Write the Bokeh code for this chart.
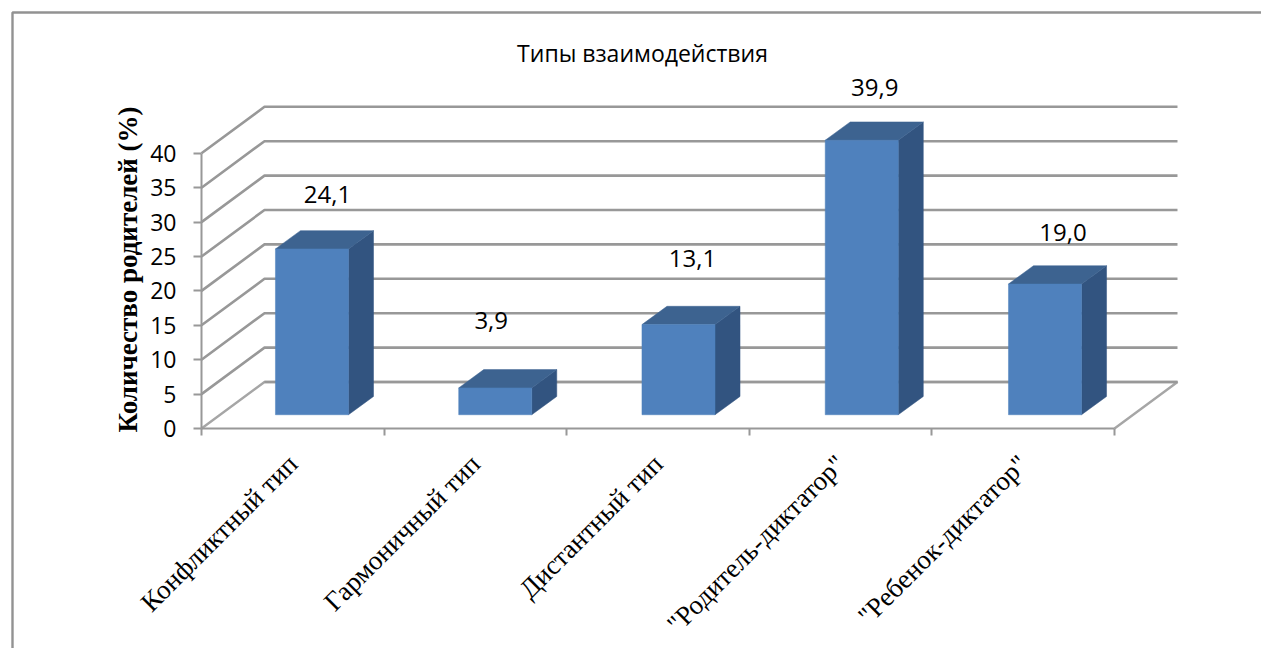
import math

from bokeh.core.properties import value
from bokeh.embed import file_html
from bokeh.models import (BoxAnnotation, ColumnDataSource, FixedTicker, Label,
                          LabelSet, LinearAxis, Range1d)
from bokeh.plotting import figure
from bokeh.resources import INLINE

# Data
categories = ["Конфликтный тип", "Гармоничный тип", "Дистантный тип",
              '"Родитель-диктатор"', '"Ребенок-диктатор"']
values = [24.1, 3.9, 13.1, 39.9, 19.0]
y_ticks = [0, 5, 10, 15, 20, 25, 30, 35, 40]
title_text = "Типы взаимодействия"
y_label = "Количество родителей (%)"

# Oblique projection of the box, in data units per unit of depth
DEPTH_X = 0.345
DEPTH_Y = 6.76
BAR_LEFT = 0.405
BAR_PITCH = 1.0036
BAR_WIDTH = 0.40
BAR_BASE = 2.0
BAR_DEPTH_X = 0.137
BAR_DEPTH_Y = 2.66

WIDTH, HEIGHT = 1261, 648
ORIGIN_X, ORIGIN_Y = 201, 428   # page position of the axes' origin
PX_PER_CATEGORY = 182.6
PX_PER_PERCENT = 6.88
n = len(categories)

FRONT = "#4F81BD"
SIDE = "#325480"
CAP = "#3D6390"
GRID = "#989898"
SANS = "Open Sans"
SERIF = "Liberation Serif"

# The plotting frame fills the page; the axes sit inside it at fixed locations
p = figure(width=WIDTH, height=HEIGHT, output_backend="svg", toolbar_location=None,
           x_axis_type=None, y_axis_type=None,
           x_range=Range1d(-ORIGIN_X / PX_PER_CATEGORY, (WIDTH - ORIGIN_X) / PX_PER_CATEGORY),
           y_range=Range1d((ORIGIN_Y - HEIGHT) / PX_PER_PERCENT, ORIGIN_Y / PX_PER_PERCENT),
           min_border=0, outline_line_color=None,
           background_fill_color="white", border_fill_color="white")
p.grid.visible = False

# Chart area border, running off the page on the right and at the bottom
p.add_layout(BoxAnnotation(left=12, right=WIDTH + 10, top=12, bottom=HEIGHT + 10,
                           left_units="canvas", right_units="canvas",
                           top_units="canvas", bottom_units="canvas",
                           fill_color=None, line_color="#929292", line_alpha=1,
                           line_width=2.4, level="underlay"))

# Walls: each gridline runs across the back and comes forward along the side
grid_xs = [[0, DEPTH_X, n + DEPTH_X] for _ in y_ticks[1:]]
grid_ys = [[t, t + DEPTH_Y, t + DEPTH_Y] for t in y_ticks[1:]]
p.multi_line(grid_xs, grid_ys, line_color=GRID, line_width=2.6)

# Floor
p.line([0, DEPTH_X, n + DEPTH_X, n],
       [0, DEPTH_Y, DEPTH_Y, 0], line_color="#A6A6A6", line_width=2.4)
p.line([DEPTH_X, n + DEPTH_X], [DEPTH_Y, DEPTH_Y], line_color=GRID, line_width=2.6)

# Bars
x0 = [BAR_LEFT + i * BAR_PITCH for i in range(n)]
x1 = [x + BAR_WIDTH for x in x0]
tops = [BAR_BASE + v for v in values]

side_xs = [[b, b + BAR_DEPTH_X, b + BAR_DEPTH_X, b] for b in x1]
side_ys = [[BAR_BASE, BAR_BASE + BAR_DEPTH_Y, t + BAR_DEPTH_Y, t] for t in tops]
cap_xs = [[a, a + BAR_DEPTH_X, b + BAR_DEPTH_X, b] for a, b in zip(x0, x1)]
cap_ys = [[t, t + BAR_DEPTH_Y, t + BAR_DEPTH_Y, t] for t in tops]

p.patches(side_xs, side_ys, fill_color=SIDE, line_color=SIDE, line_width=0.5)
p.patches(cap_xs, cap_ys, fill_color=CAP, line_color=CAP, line_width=0.5)
p.quad(left=x0, right=x1, bottom=BAR_BASE, top=tops,
       fill_color=FRONT, line_color=FRONT, line_width=0.5)

# Value axis
y_axis = LinearAxis(ticker=FixedTicker(ticks=y_ticks), bounds=(0, 40),
                    fixed_location=0,
                    major_label_text_font=SANS,
                    major_label_text_font_size="23px",
                    major_label_text_color="black",
                    major_label_standoff=17,
                    axis_line_color=GRID, axis_line_width=2,
                    major_tick_line_color=GRID, major_tick_line_width=2,
                    major_tick_in=0, major_tick_out=8,
                    minor_tick_line_color=None)
p.add_layout(y_axis, "left")

# The value axis title sits higher than the axis centre
p.add_layout(Label(x=127, y=269, x_units="canvas", y_units="canvas",
                   text=y_label, angle=math.pi / 2,
                   text_align="center", text_baseline="middle",
                   text_font=SERIF, text_font_style="bold", text_font_size="27px",
                   text_color="black"))

# Category axis: labels sit mid-slot, ticks mark the slot edges
x_axis = LinearAxis(ticker=FixedTicker(ticks=[i + 0.5 for i in range(n)],
                                       minor_ticks=list(range(n + 1))),
                    bounds=(0, n),
                    fixed_location=0,
                    major_label_overrides={i + 0.5: c for i, c in enumerate(categories)},
                    major_label_orientation=0.785,
                    major_label_text_font=SERIF,
                    major_label_text_font_size="27px",
                    major_label_text_color="black",
                    major_label_standoff=24,
                    axis_line_color=GRID, axis_line_width=2,
                    major_tick_line_color=None,
                    minor_tick_line_color=GRID, minor_tick_line_width=2,
                    minor_tick_in=0, minor_tick_out=7)
p.add_layout(x_axis, "below")

# Value labels above each bar
label_dx = [15.5, -4, 14, 13, 18]
label_dy = [54, 67, 66, 53, 52]
labels = ColumnDataSource(dict(
    x=[a + BAR_WIDTH / 2 for a in x0],
    y=tops,
    text=[f"{v:.1f}".replace(".", ",") for v in values],
    dx=label_dx,
    dy=label_dy,
))
p.add_layout(LabelSet(x="x", y="y", text="text", source=labels,
                      x_offset="dx", y_offset="dy",
                      text_align="center", text_baseline="middle",
                      text_font=value(SANS), text_font_size="24px",
                      text_color="black"))

# Chart title
p.add_layout(Label(x=642, y=52, x_units="canvas", y_units="canvas",
                   text=title_text, text_align="center", text_baseline="middle",
                   text_font=SANS, text_font_size="23px", text_color="black"))

with open("out.html", "w") as f:
    f.write(file_html(p, INLINE))
